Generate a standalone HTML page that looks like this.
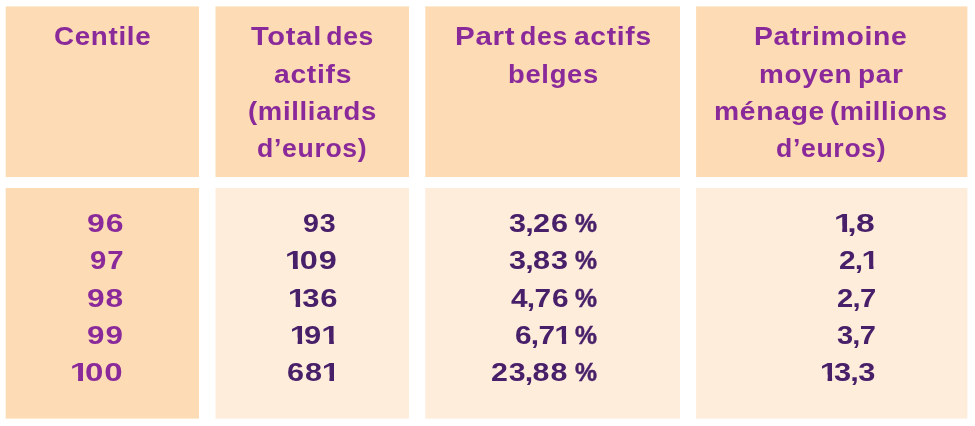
<!DOCTYPE html>
<html lang="fr">
<head>
<meta charset="utf-8">
<title>Patrimoine par centile</title>
<style>
html,body{margin:0;padding:0;background:#fff;}
body{width:975px;height:426px;position:relative;overflow:hidden;font-family:"Liberation Sans",sans-serif;font-weight:bold;}
.b{position:absolute;}
.t{position:absolute;white-space:nowrap;line-height:1;display:block;transform-origin:0 0;font-size:26.5px;}
.h,.p{color:#8A2A9A;}
.h{letter-spacing:0.025em;}
.d{color:#48206A;}
.p,.d{letter-spacing:0.03em;}
.o{display:inline-block;width:0.465em;margin-left:-0.041em;transform:scaleX(1.08);transform-origin:0 0;clip-path:polygon(0 0,0.374em 0,0.374em 100%,0.2334em 100%,0.2334em 0.6em,0 0.6em);}
.q{-webkit-text-stroke:0.45px currentColor;}
.c{margin-left:-0.06em;letter-spacing:-0.02em;}

</style>
</head>
<body>
<svg class="b" width="975" height="426" viewBox="0 0 975 426" style="left:0;top:0">
<rect x="5.7" y="6.4" width="193.3" height="170.65" fill="#FDDBB4"/>
<rect x="5.7" y="188" width="193.3" height="230.6" fill="#FDDBB4"/>
<rect x="215.5" y="6.4" width="193.5" height="170.65" fill="#FDDBB4"/>
<rect x="215.5" y="188" width="193.5" height="230.6" fill="#FFEDDB"/>
<rect x="425.3" y="6.4" width="254.7" height="170.65" fill="#FDDBB4"/>
<rect x="425.3" y="188" width="254.7" height="230.6" fill="#FFEDDB"/>
<rect x="696.1" y="6.4" width="271.3" height="170.65" fill="#FDDBB4"/>
<rect x="696.1" y="188" width="271.3" height="230.6" fill="#FFEDDB"/>
</svg>
<div class="head">
<div class="cell">
<span class="t h" style="left:54.38px;top:22.57px;transform:scaleX(1.0464)">Centile</span>
</div>
<div class="cell">
<span class="t h" style="left:251.24px;top:22.57px;transform:scaleX(1.0978)">Total</span>
<span class="t h" style="left:326.29px;top:22.57px;transform:scaleX(1.0000)">des</span>
<span class="t h" style="left:274.09px;top:60.57px;transform:scaleX(1.0666)">actifs</span>
<span class="t h" style="left:247.72px;top:97.57px;transform:scaleX(1.0358)">(milliards</span>
<span class="t h" style="left:257.48px;top:134.57px;transform:scaleX(1.0044)">d’euros)</span>
</div>
<div class="cell">
<span class="t h" style="left:455.12px;top:22.57px;transform:scaleX(1.1152)">Part</span>
<span class="t h" style="left:520.38px;top:22.57px;transform:scaleX(1.0064)">des</span>
<span class="t h" style="left:574.09px;top:22.57px;transform:scaleX(1.0631)">actifs</span>
<span class="t h" style="left:508.16px;top:60.57px;transform:scaleX(1.0340)">belges</span>
</div>
<div class="cell">
<span class="t h" style="left:753.76px;top:22.57px;transform:scaleX(1.0692)">Patrimoine</span>
<span class="t h" style="left:759.06px;top:60.57px;transform:scaleX(1.0518)">moyen</span>
<span class="t h" style="left:858.08px;top:60.57px;transform:scaleX(1.0552)">par</span>
<span class="t h" style="left:713.51px;top:97.57px;transform:scaleX(1.0664)">ménage</span>
<span class="t h" style="left:830.10px;top:97.57px;transform:scaleX(1.0240)">(millions</span>
<span class="t h" style="left:776.29px;top:134.57px;transform:scaleX(1.0042)">d’euros)</span>
</div>
</div>
<div class="body">
<div class="cell">
<span class="t p" style="left:87.48px;top:209.57px;transform:scaleX(1.2066)">96</span>
</div>
<div class="cell">
<span class="t d" style="left:303.05px;top:209.57px;transform:scaleX(1.0807)">93</span>
</div>
<div class="cell">
<span class="t d" style="left:509.02px;top:209.57px;transform:scaleX(1.1552)">3<span class="c">,</span>26</span>
<span class="t d q" style="left:575.20px;top:209.57px;transform:scaleX(0.9335)">%</span>
</div>
<div class="cell">
<span class="t d" style="left:835.19px;top:209.57px;transform:scaleX(1.2704)"><span class="o">1</span><span class="c">,</span>8</span>
</div>
<div class="cell">
<span class="t p" style="left:90.32px;top:246.57px;transform:scaleX(1.1070)">97</span>
</div>
<div class="cell">
<span class="t d" style="left:286.08px;top:246.57px;transform:scaleX(1.2244)"><span class="o">1</span>09</span>
</div>
<div class="cell">
<span class="t d" style="left:509.04px;top:246.57px;transform:scaleX(1.1545)">3<span class="c">,</span>83</span>
<span class="t d q" style="left:575.20px;top:246.57px;transform:scaleX(0.9335)">%</span>
</div>
<div class="cell">
<span class="t d" style="left:838.74px;top:246.57px;transform:scaleX(1.1287)">2<span class="c">,</span><span class="o">1</span></span>
</div>
<div class="cell">
<span class="t p" style="left:86.94px;top:284.57px;transform:scaleX(1.1969)">98</span>
</div>
<div class="cell">
<span class="t d" style="left:288.66px;top:284.57px;transform:scaleX(1.1706)"><span class="o">1</span>36</span>
</div>
<div class="cell">
<span class="t d" style="left:510.79px;top:284.57px;transform:scaleX(1.1263)">4<span class="c">,</span>76</span>
<span class="t d q" style="left:575.20px;top:284.57px;transform:scaleX(0.9335)">%</span>
</div>
<div class="cell">
<span class="t d" style="left:836.84px;top:284.57px;transform:scaleX(1.1017)">2<span class="c">,</span>7</span>
</div>
<div class="cell">
<span class="t p" style="left:86.94px;top:321.57px;transform:scaleX(1.1856)">99</span>
</div>
<div class="cell">
<span class="t d" style="left:291.09px;top:321.57px;transform:scaleX(1.1680)"><span class="o">1</span>9<span class="o">1</span></span>
</div>
<div class="cell">
<span class="t d" style="left:515.12px;top:321.57px;transform:scaleX(1.1244)">6<span class="c">,</span>7<span class="o">1</span></span>
<span class="t d q" style="left:575.20px;top:321.57px;transform:scaleX(0.9335)">%</span>
</div>
<div class="cell">
<span class="t d" style="left:837.17px;top:321.57px;transform:scaleX(1.0954)">3<span class="c">,</span>7</span>
</div>
<div class="cell">
<span class="t p" style="left:71.15px;top:358.57px;transform:scaleX(1.2466)"><span class="o">1</span>00</span>
</div>
<div class="cell">
<span class="t d" style="left:287.04px;top:358.57px;transform:scaleX(1.1562)">68<span class="o">1</span></span>
</div>
<div class="cell">
<span class="t d" style="left:491.14px;top:358.57px;transform:scaleX(1.1446)">23<span class="c">,</span>88</span>
<span class="t d q" style="left:575.20px;top:358.57px;transform:scaleX(0.9335)">%</span>
</div>
<div class="cell">
<span class="t d" style="left:820.82px;top:358.57px;transform:scaleX(1.1626)"><span class="o">1</span>3<span class="c">,</span>3</span>
</div>
</div>
</body>
</html>
